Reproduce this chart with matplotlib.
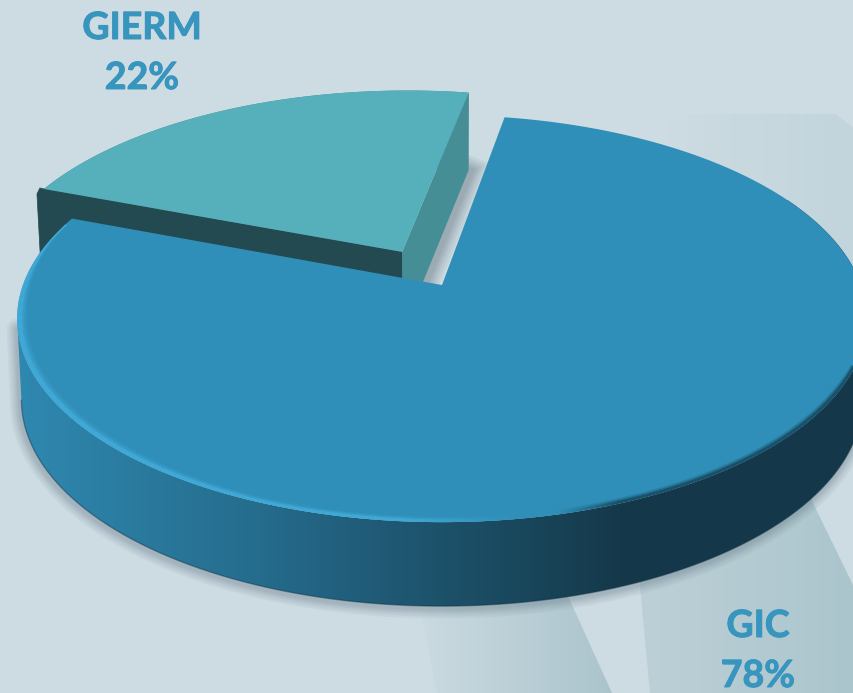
import numpy as np
import matplotlib
matplotlib.use("Agg")
import matplotlib.pyplot as plt
import matplotlib.patheffects as pe
from matplotlib.collections import LineCollection
from matplotlib.colors import LinearSegmentedColormap, to_rgb
from matplotlib.patches import Polygon

# chart data
labels = ["GIC", "GIERM"]
values = [78, 22]
explode = [0.0, 0.198]

top_colors = ["#2F8FB8", "#55B0BC"]
text_color = "#3795BE"
bg_color = "#CDDBE2"

# perspective of the pie disc, in pixels
cx, cy = 442, 285
rx, ry = 419, 198
k = 0.165
start_angle = 10


def project(u, v):
    w = 1 + k * v
    return cx + rx * u / w, cy - ry * v / w


def drop(x, y):
    # bottom of the side wall, a bit deeper close to the viewer
    depth = 78 + 6 * (y - 91) / 431
    return cx + (x - cx) * 0.99, y + depth


def rim(a1, a2, shift=(0, 0), r=1.0, n=300):
    a = np.radians(np.linspace(a1, a2, n))
    return project(r * np.sin(a) + shift[0], r * np.cos(a) + shift[1])


def gradient(ax, x0, y0, x1, y1, colors, clip, zorder):
    cmap = LinearSegmentedColormap.from_list("g", colors)
    im = ax.imshow(np.linspace(0, 1, 256).reshape(1, -1), extent=(x0, x1, y1, y0),
                   cmap=cmap, aspect="auto", zorder=zorder, interpolation="bilinear")
    im.set_clip_path(Polygon(clip, closed=True, transform=ax.transData))


fig = plt.figure(figsize=(8.54, 6.93), dpi=100, facecolor=bg_color)
ax = fig.add_axes([0, 0, 1, 1])
ax.set_facecolor(bg_color)

# light beams behind the pie
gradient(ax, 640, 350, 854, 693, ["#BDD0D7", "#ABC5CD"],
         [(618, 350), (650, 693), (854, 693), (854, 587), (813, 503), (770, 350)], 1)
gradient(ax, 420, 500, 612, 693, ["#CBDAE1", "#ABC4CC"],
         [(399, 500), (437, 693), (612, 693), (547, 550), (525, 500)], 1)
gradient(ax, 670, 114, 854, 400, [bg_color, "#C2D5DC"],
         [(670, 114), (835, 114), (854, 128), (854, 400), (670, 400)], 1)

# split the circle by the values
ends = np.cumsum(values) / np.sum(values) * 360 + start_angle
starts = ends - np.array(values) / np.sum(values) * 360
mids = np.radians((starts + ends) / 2)
shifts = [(e * np.sin(m), e * np.cos(m)) for e, m in zip(explode, mids)]

# GIC outline, top and bottom; the wall stops where the rim turns back at the left
xt, yt = rim(starts[0], ends[0], shifts[0])
xa, ya = project(*shifts[0])
xf, yf = rim(60, ends[0], shifts[0], n=600)
turn = np.argmin(xf)
xf, yf = xf[:turn + 1], yf[:turn + 1]
xb, yb = drop(xf, yf)

# GIERM outline
xw, yw = rim(starts[1], ends[1], shifts[1])
xp, yp = project(*shifts[1])
xwb, ywb = drop(xw, yw)
xpb, ypb = drop(xp, yp)

# soft shadows on the background
for lw in [15, 12, 9, 7, 5, 3]:
    ax.plot(np.r_[xb - 1, xf[-1]], np.r_[yb + 2, yf[-1] + 10], color="#5F7682", alpha=0.07,
            lw=lw, zorder=2, solid_capstyle="round")
    ax.plot([xwb[-1] + 3, xpb + 3], [ywb[-1], ypb], color="#5F6F7C", alpha=0.09, lw=lw * 1.3, zorder=2)

# GIERM slice, the front face runs from the centre to its left corner
ax.fill(np.r_[xw, xwb[::-1]], np.r_[yw, ywb[::-1]], color="#468E96", lw=0, zorder=3)
ax.fill([xw[0] - 4, xw[0] - 7, xw[0] - 3, xwb[0], xpb, xp, xw[0]],
        [yw[0] - 1, yw[0] + 5, ywb[0], ywb[0], ypb, yp, yw[0]],
        color="#234A50", lw=0.5, zorder=3)
ax.fill([xp, xpb, xwb[-1], xw[-1]], [yp, ypb, ywb[-1], yw[-1]], color="#468E96", lw=0, zorder=3)
ax.fill(np.r_[xp, xw], np.r_[yp, yw], color=top_colors[1], lw=0, zorder=4)

# GIC slice: side wall with a left to right fade
wall = np.column_stack([np.r_[xf, xb[::-1]], np.r_[yf, yb[::-1]]])
gradient(ax, 17, 200, 860, 620,
         ["#2F88B0", "#2A7A9E", "#256C8D", "#205A76", "#1A4A60", "#15394B", "#14374A", "#14374A"],
         wall, 5)
ax.plot(xb, yb, color="#123243", alpha=0.45, lw=1.0, zorder=6)
top_face = ax.fill(np.r_[xa, xt], np.r_[ya, yt], color=top_colors[0], lw=0, zorder=7)[0]

# bevel along the front edge: bright on the left, dark on the right
angles = np.linspace(95, ends[0] - 2, 600)
xr, yr = rim(95, ends[0] - 2, r=0.998, n=600)
top_rgb = np.array(to_rgb(top_colors[0]))
bright = np.array(to_rgb("#45AFDE"))
dark = np.array(to_rgb("#17445A"))
seg = np.column_stack([xr, yr]).reshape(-1, 1, 2)
seg = np.concatenate([seg[:-1], seg[1:]], axis=1)
xm = xr[:-1]
am = angles[:-1]
cols = []
for x in xm:
    if x < 520:
        t = np.clip((520 - x) / 120, 0, 1)
        cols.append(top_rgb + (bright - top_rgb) * t)
    else:
        t = np.clip((x - 560) / 60, 0, 1)
        cols.append(top_rgb + (dark - top_rgb) * t)
cols = np.array(cols)
taper = np.clip((ends[0] - 2 - am) / 25, 0.2, 1) * np.clip((am - 95) / 25, 0.2, 1)
left = 1 + 0.8 * np.clip((260 - xm) / 240, 0, 1)
for width, alpha in [(7.0, 0.2), (5.0, 0.35), (3.2, 0.7)]:
    bevel = LineCollection(seg, colors=cols, alpha=alpha, linewidths=width * taper * left, zorder=8)
    ax.add_collection(bevel)
    bevel.set_clip_path(top_face)

# labels
stroke = [pe.withStroke(linewidth=0.7, foreground=text_color)]
for name, value, x, y in zip(labels, values, [758, 142], [626, 28]):
    ax.text(x, y, name, color=text_color, family="Lato", weight="bold", fontsize=27,
            ha="center", va="center", zorder=9, path_effects=stroke)
    ax.text(x, y + 50, f"{value}%", color=text_color, family="Lato", weight="bold", fontsize=27,
            ha="center", va="center", zorder=9, path_effects=stroke)

ax.set_xlim(0, 854)
ax.set_ylim(693, 0)
ax.axis("off")
fig.savefig("out.png", dpi=100, facecolor=bg_color)
